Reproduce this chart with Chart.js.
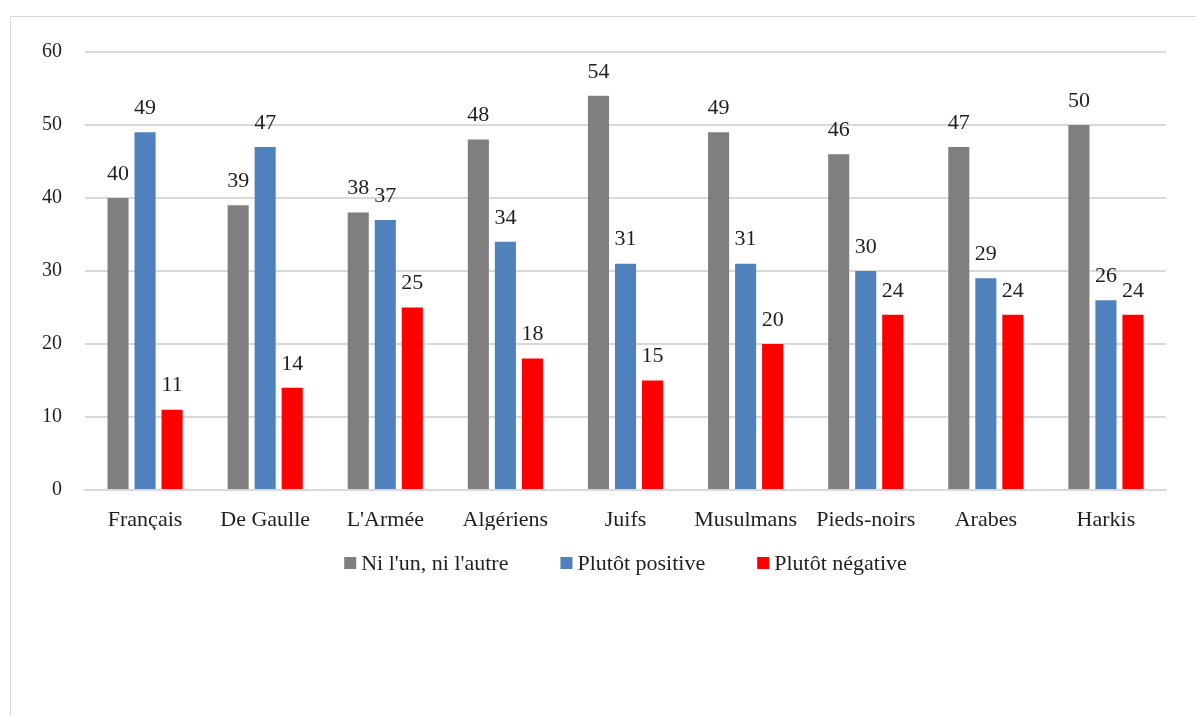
<!DOCTYPE html>
<html>
<head>
<meta charset="utf-8">
<script src="https://cdn.jsdelivr.net/npm/chart.js@4"></script>
<style>
  html, body { margin: 0; padding: 0; background: #fff; overflow: hidden; }
  #box {
    position: absolute; left: 10px; top: 16px;
    width: 1200px; height: 720px;
    border: 1px solid #d9d9d9; background: #fff;
  }
  #myChart { display: block; }
</style>
</head>
<body>
<div id="box"><canvas id="myChart" width="1186" height="700"></canvas></div>
<script>
var categories = ["Français", "De Gaulle", "L'Armée", "Algériens", "Juifs", "Musulmans", "Pieds-noirs", "Arabes", "Harkis"];
var niUnNiAutre = [40, 39, 38, 48, 54, 49, 46, 47, 50];
var plutotPositive = [49, 47, 37, 34, 31, 31, 30, 29, 26];
var plutotNegative = [11, 14, 25, 18, 15, 20, 24, 24, 24];
var yTicks = [0, 10, 20, 30, 40, 50, 60];

var serif = '"Liberation Serif", "DejaVu Serif", serif';
var textColor = '#1f1f1f';

// value written above each bar
var barLabels = {
  id: 'barLabels',
  afterDatasetsDraw: function (chart) {
    var c = chart.ctx;
    c.save();
    c.font = '22px ' + serif;
    c.fillStyle = textColor;
    c.textAlign = 'center';
    c.textBaseline = 'middle';
    chart.data.datasets.forEach(function (ds, i) {
      chart.getDatasetMeta(i).data.forEach(function (bar, j) {
        c.fillText(ds.data[j], bar.x, bar.y - 24);
      });
    });
    c.restore();
  }
};

// legend row under the category names: small square, tight text
var bottomLegend = {
  id: 'bottomLegend',
  afterDraw: function (chart) {
    var c = chart.ctx;
    var area = chart.chartArea;
    var box = 12, gap = 5, spacing = 52;
    c.save();
    c.font = '22px ' + serif;
    c.textBaseline = 'middle';
    c.textAlign = 'left';
    var items = chart.data.datasets.map(function (ds) {
      return { text: ds.label, color: ds.backgroundColor, w: c.measureText(ds.label).width };
    });
    var total = 0;
    items.forEach(function (it, k) { total += box + gap + it.w + (k ? spacing : 0); });
    var x = (area.left + area.right) / 2 - total / 2;
    var y = area.bottom + 73;
    items.forEach(function (it) {
      c.fillStyle = it.color;
      c.fillRect(x, y - box / 2, box, box);
      c.fillStyle = textColor;
      c.fillText(it.text, x + box + gap, y + 1);
      x += box + gap + it.w + spacing;
    });
    c.restore();
  }
};

var ctx = document.getElementById('myChart').getContext('2d');
var chart = new Chart(ctx, {
  type: 'bar',
  data: {
    labels: categories,
    datasets: [
      { label: "Ni l'un, ni l'autre", data: niUnNiAutre, backgroundColor: '#7f7f7f' },
      { label: 'Plutôt positive', data: plutotPositive, backgroundColor: '#4f81bd' },
      { label: 'Plutôt négative', data: plutotNegative, backgroundColor: '#ff0000' }
    ]
  },
  options: {
    responsive: false,
    animation: false,
    devicePixelRatio: 1,
    categoryPercentage: 0.675,
    barPercentage: 0.78,
    layout: { padding: { top: 21, right: 31, bottom: 187, left: 0 } },
    plugins: {
      legend: { display: false },
      tooltip: { enabled: false }
    },
    scales: {
      x: {
        afterFit: function (s) { s.height = 40; },
        grid: { display: false },
        border: { color: '#d9d9d9', width: 2 },
        ticks: { font: { family: serif, size: 22 }, color: textColor, padding: 9, maxRotation: 0 }
      },
      y: {
        min: 0,
        max: 60,
        afterFit: function (s) { s.width = 74; },
        afterBuildTicks: function (s) { s.ticks = yTicks.map(function (v) { return { value: v }; }); },
        grid: { color: '#d9d9d9', lineWidth: 2, drawTicks: false },
        border: { display: false },
        ticks: { font: { family: serif, size: 20 }, color: textColor, padding: 23 }
      }
    }
  },
  plugins: [barLabels, bottomLegend]
});
</script>
</body>
</html>
